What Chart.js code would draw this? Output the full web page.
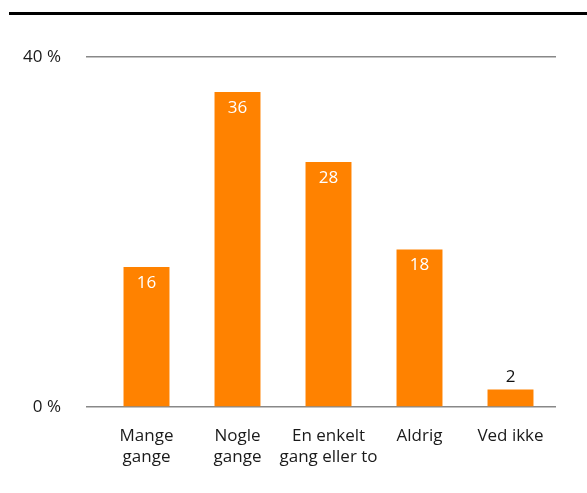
<!DOCTYPE html>
<html>
<head>
<meta charset="utf-8">
<script src="https://cdn.jsdelivr.net/npm/chart.js@4"></script>
<style>
  html, body { margin: 0; padding: 0; background: #fff; }
  #wrap { width: 587px; height: 493px; }
</style>
</head>
<body>
<div id="wrap"><canvas id="chart" width="587" height="493"></canvas></div>
<script>
// Categories and shares (%)
const categories = [['Mange', 'gange'], ['Nogle', 'gange'], ['En enkelt', 'gang eller to'], ['Aldrig'], ['Ved ikke']];
const shares = [16, 36, 28, 18, 2];
const yTicks = [0, 40];

const FONT = '"Open Sans", "Noto Sans", sans-serif';
const ORANGE = '#ff8200';

// Thick black rule across the top of the figure
const topRule = {
    id: 'topRule',
    beforeDraw(chart) {
        const ctx = chart.ctx;
        ctx.save();
        ctx.strokeStyle = '#000';
        ctx.lineWidth = 3;
        ctx.beginPath();
        ctx.moveTo(9, 13.5);
        ctx.lineTo(chart.width, 13.5);
        ctx.stroke();
        ctx.restore();
    }
};

// Value labels: white inside tall bars, black above short ones
const valueLabels = {
    id: 'valueLabels',
    afterDatasetsDraw(chart) {
        const ctx = chart.ctx;
        const meta = chart.getDatasetMeta(0);
        ctx.save();
        ctx.font = '17px ' + FONT;
        ctx.textAlign = 'center';
        ctx.textBaseline = 'middle';
        meta.data.forEach((bar, i) => {
            const v = shares[i];
            if (v >= 5) {
                ctx.fillStyle = '#fff';
                ctx.fillText(String(v), bar.x, bar.y + 16);
            } else {
                ctx.fillStyle = '#111';
                ctx.fillText(String(v), bar.x, bar.y - 12);
            }
        });
        ctx.restore();
    }
};

const ctx = document.getElementById('chart').getContext('2d');
new Chart(ctx, {
    type: 'bar',
    data: {
        labels: categories,
        datasets: [{
            data: shares,
            backgroundColor: ORANGE,
            barPercentage: 0.505,
            categoryPercentage: 1
        }]
    },
    options: {
        responsive: false,
        animation: false,
        layout: { padding: { top: 57, right: 31, left: 0, bottom: 0 } },
        plugins: {
            legend: { display: false },
            tooltip: { enabled: false }
        },
        scales: {
            x: {
                grid: { display: false },
                border: { display: false },
                ticks: {
                    color: '#1a1a1a',
                    font: { family: FONT, size: 17, lineHeight: 1.22 },
                    padding: 11,
                    maxRotation: 0,
                    autoSkip: false
                },
                afterFit(scale) { scale.height = 86; }
            },
            y: {
                min: 0,
                max: 40,
                afterBuildTicks(scale) {
                    scale.ticks = yTicks.map(v => ({ value: v }));
                },
                grid: {
                    color: '#888',
                    lineWidth: 1.5,
                    drawTicks: true,
                    tickLength: 15
                },
                border: { display: false },
                ticks: {
                    color: '#1a1a1a',
                    font: { family: FONT, size: 17 },
                    padding: 25,
                    callback: v => v + ' %'
                },
                afterFit(scale) { scale.width = 101; }
            }
        }
    },
    plugins: [topRule, valueLabels]
});
</script>
</body>
</html>
